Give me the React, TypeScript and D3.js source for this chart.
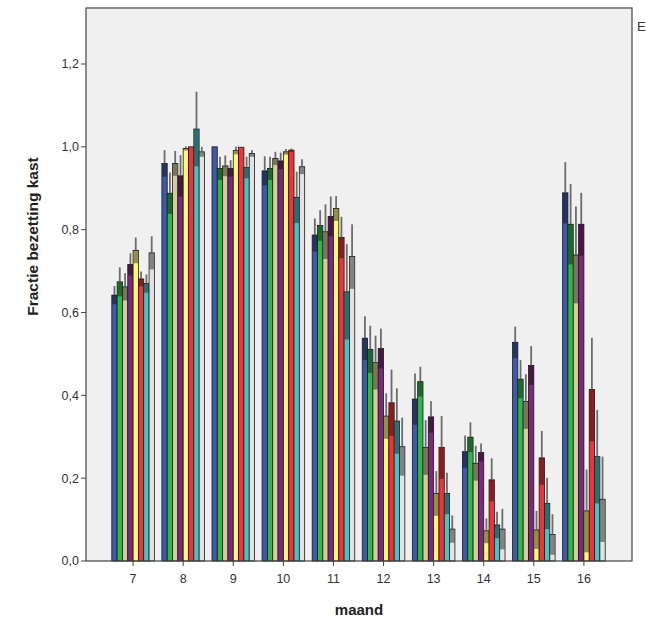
import React from "react";
import * as d3 from "d3";

const months = ["7", "8", "9", "10", "11", "12", "13", "14", "15", "16"];
const seriesNames = ["s1", "s2", "s3", "s4", "s5", "s6", "s7", "s8"];
const seriesColors = ["#3E58AC", "#2EB848", "#D3CE97", "#7C287D", "#FBF873", "#EF3338", "#48C2C5", "#E2E2E2"];

// mean values per series for each month
const blueMeans = [0.642, 0.96, 1.0, 0.942, 0.787, 0.538, 0.391, 0.264, 0.528, 0.889];
const greenMeans = [0.674, 0.888, 0.948, 0.948, 0.81, 0.511, 0.433, 0.299, 0.439, 0.813];
const tanMeans = [0.662, 0.96, 0.954, 0.972, 0.795, 0.479, 0.274, 0.236, 0.385, 0.739];
const purpleMeans = [0.716, 0.93, 0.948, 0.966, 0.832, 0.513, 0.348, 0.262, 0.472, 0.813];
const yellowMeans = [0.75, 0.996, 0.991, 0.988, 0.851, 0.35, 0.163, 0.073, 0.075, 0.121];
const redMeans = [0.681, 1.0, 0.999, 0.992, 0.781, 0.382, 0.274, 0.196, 0.249, 0.414];
const cyanMeans = [0.67, 1.043, 0.95, 0.878, 0.65, 0.338, 0.163, 0.087, 0.139, 0.252];
const whiteMeans = [0.744, 0.988, 0.984, 0.952, 0.735, 0.276, 0.077, 0.077, 0.064, 0.149];

const blueErr = [0.022, 0.032, 0.0, 0.035, 0.04, 0.053, 0.062, 0.039, 0.038, 0.074];
const greenErr = [0.035, 0.05, 0.028, 0.028, 0.037, 0.057, 0.036, 0.036, 0.046, 0.097];
const tanErr = [0.033, 0.03, 0.025, 0.016, 0.066, 0.065, 0.066, 0.042, 0.066, 0.117];
const purpleErr = [0.027, 0.05, 0.02, 0.02, 0.048, 0.048, 0.038, 0.022, 0.047, 0.076];
const yellowErr = [0.031, 0.005, 0.009, 0.007, 0.03, 0.055, 0.054, 0.03, 0.046, 0.1];
const redErr = [0.018, 0.0, 0.0, 0.004, 0.05, 0.08, 0.076, 0.052, 0.065, 0.125];
const cyanErr = [0.022, 0.09, 0.026, 0.062, 0.115, 0.079, 0.05, 0.032, 0.062, 0.113];
const whiteErr = [0.04, 0.012, 0.008, 0.018, 0.078, 0.07, 0.033, 0.049, 0.049, 0.103];

const yTicks = [0, 0.2, 0.4, 0.6, 0.8, 1.0, 1.2];

const allMeans = [blueMeans, greenMeans, tanMeans, purpleMeans, yellowMeans, redMeans, cyanMeans, whiteMeans];
const allErrs = [blueErr, greenErr, tanErr, purpleErr, yellowErr, redErr, cyanErr, whiteErr];

export default function App() {
  const width = 646;
  const height = 630;
  const left = 86;
  const right = 632;
  const top = 8;
  const bottom = 561;

  const y = d3.scaleLinear().domain([0, 1.2]).range([bottom, 64]);
  const x0 = d3.scaleBand().domain(months).range([left, right - 1]).paddingInner(0).paddingOuter(0.44);
  const groupW = x0.bandwidth() * 0.85;
  const x1 = d3.scaleBand().domain(seriesNames).range([0, groupW]).padding(0);
  const fmt = (v: number) => d3.format(".1f")(v).replace(".", ",");

  const bars: React.ReactNode[] = [];
  months.forEach((m, mi) => {
    const gx = (x0(m) as number) + (x0.bandwidth() - groupW) / 2;
    seriesNames.forEach((s, si) => {
      const mean = allMeans[si][mi];
      const err = allErrs[si][mi];
      const bx = gx + (x1(s) as number);
      const bw = x1.bandwidth();
      const yTop = y(mean);
      const yLow = y(Math.max(0, mean - err));
      const yHigh = y(mean + err);
      bars.push(
        <g key={`${m}-${s}`}>
          <rect x={bx} y={yTop} width={bw} height={bottom - yTop} fill={seriesColors[si]} stroke="#1a1a1a" strokeWidth={0.8} />
          {err > 0.003 && (
            <rect x={bx + 0.4} y={yTop} width={bw - 0.8} height={yLow - yTop} fill="#000" fillOpacity={0.42} />
          )}
          {err > 0.003 && (
            <line x1={bx + bw / 2} x2={bx + bw / 2} y1={yTop} y2={yHigh} stroke="#555" strokeOpacity={0.85} strokeWidth={1.8} />
          )}
        </g>
      );
    });
  });

  return (
    <svg width={width} height={height} style={{ position: "absolute", left: 0, top: 0, background: "#fff" }} fontFamily="Arial, 'Liberation Sans', sans-serif">
      <rect x={0} y={0} width={width} height={height} fill="#fff" />
      <rect x={left} y={top} width={right - left} height={bottom - top} fill="#F0F0F0" />
      {bars}
      <rect x={left} y={top} width={right - left} height={bottom - top} fill="none" stroke="#444" strokeWidth={1.2} />
      {yTicks.map((t) => (
        <g key={t}>
          <line x1={left - 5} x2={left} y1={y(t)} y2={y(t)} stroke="#444" strokeWidth={1} />
          <text x={left - 7} y={y(t)} dy="0.35em" textAnchor="end" fontSize={12.5} fill="#333">
            {fmt(t)}
          </text>
        </g>
      ))}
      {months.map((m) => {
        const cx = (x0(m) as number) + x0.bandwidth() / 2;
        return (
          <g key={m}>
            <line x1={cx} x2={cx} y1={bottom} y2={bottom + 5} stroke="#444" strokeWidth={1} />
            <text x={cx} y={bottom + 22} textAnchor="middle" fontSize={12.5} fill="#333">
              {m}
            </text>
          </g>
        );
      })}
      <text x={359} y={615} textAnchor="middle" fontSize={15} fontWeight="bold" fill="#222">
        maand
      </text>
      <text transform={`translate(38,${(top + bottom) / 2 - 48}) rotate(-90)`} textAnchor="middle" fontSize={15.5} fontWeight="bold" fill="#222">
        Fractie bezetting kast
      </text>
      <text x={637} y={31} fontSize={13} fill="#333">E</text>
    </svg>
  );
}
